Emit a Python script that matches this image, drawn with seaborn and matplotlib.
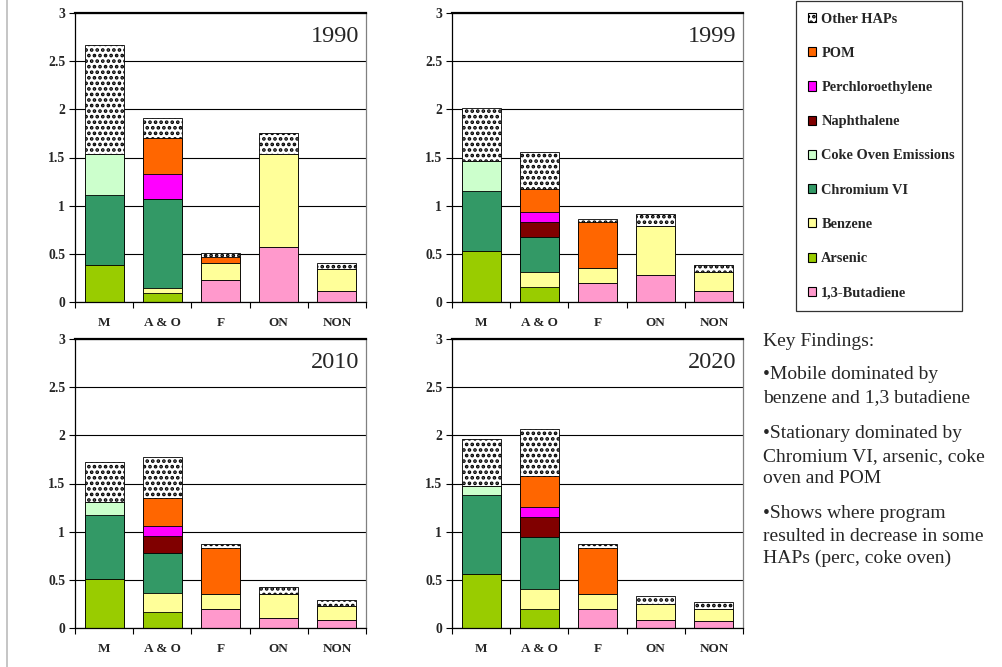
import matplotlib
matplotlib.use("Agg")
import matplotlib.pyplot as plt
import seaborn as sns
from matplotlib.patches import Patch
from matplotlib.lines import Line2D
from matplotlib.ticker import FixedLocator

# ---- data -------------------------------------------------------------
categories = ["M", "A & O", "F", "ON", "NON"]
years = ["1990", "1999", "2010", "2020"]
y_ticks = [0, 0.5, 1, 1.5, 2, 2.5, 3]
y_tick_labels = ["0", "0.5", "1", "1.5", "2", "2.5", "3"]

# Segment heights: one row per year (1990, 1999, 2010, 2020),
# one column per category (M, A & O, F, ON, NON)
butadiene = [[0, 0, 0.23, 0.576, 0.117],
             [0, 0, 0.197, 0.28, 0.11],
             [0, 0, 0.2, 0.104, 0.08],
             [0, 0, 0.2, 0.08, 0.069]]
arsenic = [[0.38, 0.093, 0, 0, 0],
           [0.525, 0.159, 0, 0, 0],
           [0.508, 0.166, 0, 0, 0],
           [0.56, 0.2, 0, 0, 0]]
benzene = [[0, 0.052, 0.174, 0.957, 0.225],
           [0, 0.152, 0.155, 0.514, 0.201],
           [0, 0.194, 0.153, 0.249, 0.145],
           [0, 0.201, 0.153, 0.169, 0.125]]
chromium = [[0.73, 0.922, 0, 0, 0],
            [0.625, 0.359, 0, 0, 0],
            [0.66, 0.418, 0, 0, 0],
            [0.819, 0.546, 0, 0, 0]]
coke_oven = [[0.43, 0, 0, 0, 0],
             [0.317, 0, 0, 0, 0],
             [0.135, 0, 0, 0, 0],
             [0.094, 0, 0, 0, 0]]
naphthalene = [[0, 0, 0, 0, 0],
               [0, 0.165, 0, 0, 0],
               [0, 0.176, 0, 0, 0],
               [0, 0.201, 0, 0, 0]]
perchloro = [[0, 0.258, 0, 0, 0],
             [0, 0.097, 0, 0, 0],
             [0, 0.104, 0, 0, 0],
             [0, 0.107, 0, 0, 0]]
pom = [[0, 0.375, 0.062, 0, 0],
       [0, 0.245, 0.476, 0, 0],
       [0, 0.29, 0.48, 0, 0],
       [0, 0.318, 0.473, 0, 0]]
other_haps = [[1.125, 0.205, 0.041, 0.221, 0.062],
              [0.543, 0.376, 0.038, 0.121, 0.076],
              [0.415, 0.425, 0.038, 0.072, 0.065],
              [0.487, 0.491, 0.042, 0.079, 0.076]]

# stacking order, bottom to top
series_names = ["1,3-Butadiene", "Arsenic", "Benzene", "Chromium VI",
                "Coke Oven Emissions", "Naphthalene", "Perchloroethylene",
                "POM", "Other HAPs"]
series_values = [butadiene, arsenic, benzene, chromium, coke_oven,
                 naphthalene, perchloro, pom, other_haps]
series_colors = ["#FF99CC", "#99CC00", "#FFFF99", "#339966", "#CCFFCC",
                 "#800000", "#FF00FF", "#FF6600", "#FFFFFF"]
series_hatch = [None] * 8 + ["..."]

findings = [
    ("Key Findings:", 346),
    ("\u2022Mobile dominated by", 379),
    ("benzene and 1,3 butadiene", 402),
    ("\u2022Stationary dominated by", 438),
    ("Chromium VI, arsenic, coke", 461),
    ("oven and POM", 483),
    ("\u2022Shows where program", 518),
    ("resulted in decrease in some", 541),
    ("HAPs (perc, coke oven)", 563),
]

# ---- style ------------------------------------------------------------
sns.set_style("white")
plt.rcParams["font.family"] = ["Liberation Serif", "DejaVu Serif"]
plt.rcParams["hatch.linewidth"] = 1.8

W, H = 1003, 667
fig = plt.figure(figsize=(W / 100, H / 100), dpi=100)

# panel rectangles in pixels: left, top
panel_px = [(75, 13), (452, 13), (75, 339), (452, 339)]
pw, ph = 291, 289

for yi, year in enumerate(years):
    lx, ty = panel_px[yi]
    ax = fig.add_axes([lx / W, 1 - (ty + ph) / H, pw / W, ph / H])

    # cumulative tops, drawn tallest first so lower layers sit on top
    tops = []
    running = [0.0] * len(categories)
    for vals in series_values:
        running = [r + v for r, v in zip(running, vals[yi])]
        tops.append(list(running))

    for si in reversed(range(len(series_names))):
        sns.barplot(x=categories, y=tops[si], order=categories,
                    color=series_colors[si], saturation=1,
                    edgecolor="black", linewidth=0.6, width=0.67,
                    hatch=series_hatch[si], errorbar=None, ax=ax, zorder=3)

    ax.set_xlim(-0.5, 4.5)
    ax.set_ylim(0, 3)
    ax.set_yticks(y_ticks)
    ax.set_yticklabels(y_tick_labels)
    ax.grid(axis="y", color="black", linewidth=0.8, zorder=0)
    ax.grid(axis="x", visible=False)
    ax.set_axisbelow(True)
    ax.set_xlabel("")
    ax.set_ylabel("")

    ax.xaxis.set_minor_locator(FixedLocator([-0.5, 0.5, 1.5, 2.5, 3.5, 4.5]))
    ax.tick_params(axis="x", which="major", length=0, pad=11,
                   labelsize=9.5)
    ax.tick_params(axis="x", which="minor", length=4, width=0.8,
                   color="black", direction="out", bottom=True)
    ax.tick_params(axis="y", which="major", length=4, width=0.8,
                   color="black", direction="out", left=True, pad=3,
                   labelsize=9.8)
    for lab in ax.get_xticklabels() + ax.get_yticklabels():
        lab.set_fontweight("bold")

    for side in ["left", "bottom"]:
        ax.spines[side].set_color("black")
        ax.spines[side].set_linewidth(0.9)
    ax.spines["top"].set_color("black")
    ax.spines["top"].set_linewidth(1.6)
    ax.spines["right"].set_color("#808080")
    ax.spines["right"].set_linewidth(0.9)
    for sp in ax.spines.values():
        sp.set_visible(True)
        sp.set_zorder(5)

    ax.text(0.976, 0.917, year, transform=ax.transAxes, ha="right",
            va="center", fontsize=17.5, zorder=6)

# ---- legend -----------------------------------------------------------
handles = [Patch(facecolor=series_colors[i], edgecolor="black",
                 linewidth=0.8, hatch=series_hatch[i], label=series_names[i])
           for i in reversed(range(len(series_names)))]
leg = fig.legend(handles=handles, loc="upper left", mode="expand",
                 bbox_to_anchor=(796 / W, 0, 166 / W, 1 - 1 / H),
                 frameon=True, fancybox=False, edgecolor="black",
                 prop={"family": "Liberation Serif", "weight": "bold",
                       "size": 10.4},
                 handlelength=0.6, handleheight=0.6, handletextpad=0.35,
                 labelspacing=1.47, borderpad=0.8, borderaxespad=0)
leg.get_frame().set_linewidth(0.9)

# ---- key findings text ------------------------------------------------
for line, ybase in findings:
    fig.text(763 / W, 1 - ybase / H, line, ha="left", va="baseline",
             fontsize=14)

# thin grey rule along the left margin
fig.add_artist(Line2D([7 / W, 7 / W], [0, 1], color="#BBBBBB",
                      linewidth=1.2, transform=fig.transFigure))

fig.savefig("out.png", dpi=100)
